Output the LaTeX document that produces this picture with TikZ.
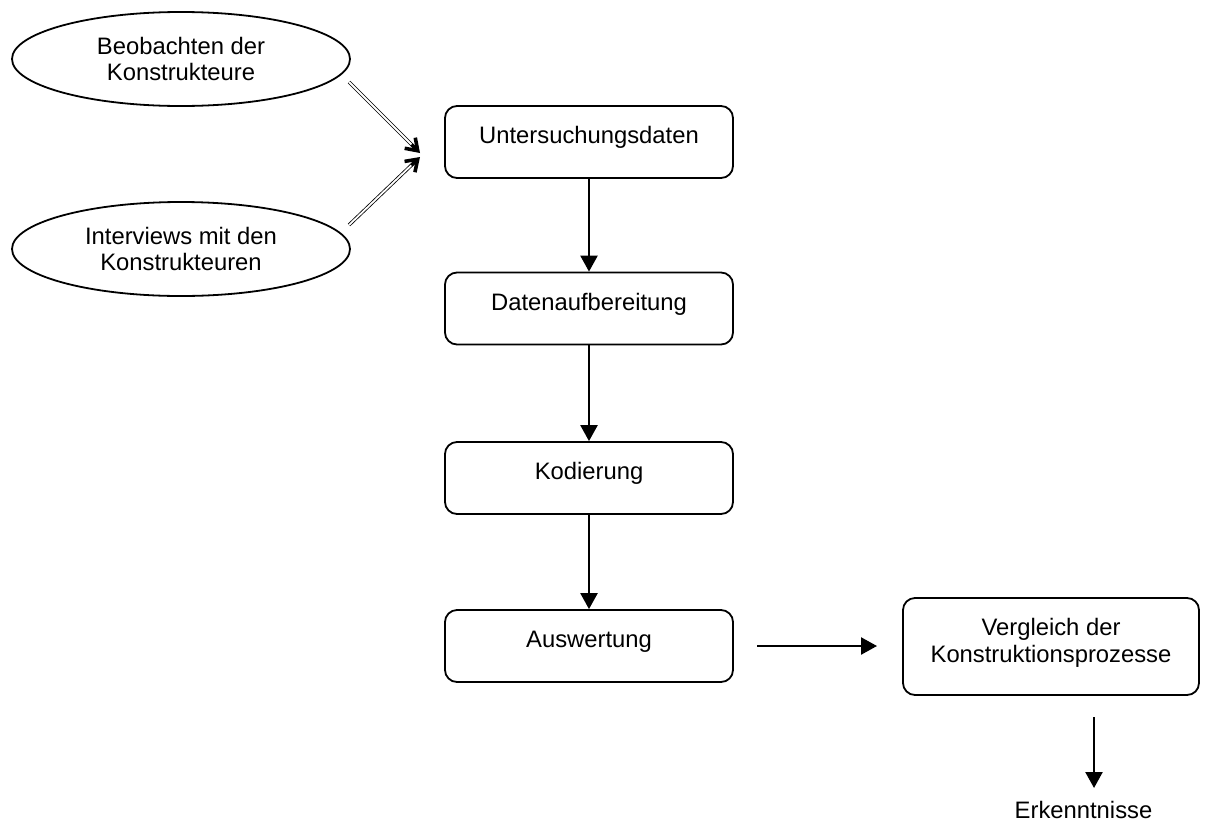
\documentclass[tikz,border=0pt]{standalone}
\usepackage{fontspec}
\setmainfont{Liberation Sans}
\usetikzlibrary{arrows.meta,shapes.geometric,calc}
\begin{document}
\begin{tikzpicture}[x=1pt,y=-1pt,
  every node/.style={font=\fontsize{23.8}{26.5}\selectfont},
  oval/.style={ellipse, draw, line width=1.8pt, minimum width=338pt, minimum height=94pt, inner sep=0pt, align=center},
  stepbox/.style={rectangle, rounded corners=12pt, draw, line width=1.8pt, minimum width=288pt, text height=18pt, text depth=15pt, inner ysep=19.5pt, inner xsep=0pt},
  flow/.style={line width=2.4pt, -{Triangle[width=17pt,length=16pt]}},
  feed/.style={double, line width=0.8pt, double distance=1.8pt},
  feedtip/.style={line width=3.2pt, -{Straight Barb[length=11pt,width=15pt,line width=3.6pt]}}
]
\useasboundingbox[fill=white] (0,0) rectangle (1209,825);

\node[oval] (obs) at (181,59) {Beobachten der\\Konstrukteure};
\node[oval] (int) at (181,249) {Interviews mit den\\Konstrukteuren};

\node[stepbox] (daten) at (589,142) {Untersuchungsdaten};
\node[stepbox] (aufb) at (589,308.5) {Datenaufbereitung};
\node[stepbox] (kod) at (589,478) {Kodierung};
\node[stepbox] (ausw) at (589,646) {Auswertung};
\node[stepbox, minimum width=296pt, text depth=40pt] (verg) at (1051,646.5)
  {\begin{tabular}[t]{@{}c@{}}Vergleich der\\Konstruktionsprozesse\end{tabular}};
\node[inner sep=1pt] (erk) at (1083.5,810) {Erkenntnisse};

% double feed arrows
\coordinate (o1) at (349,82);
\coordinate (t1) at (420,153);
\coordinate (o2) at (349,225);
\coordinate (t2) at (420,157);
\draw[feed, shorten >=4pt] (o1) -- (t1);
\draw[feedtip] ($(t1)!12pt!(o1)$) -- (t1);
\draw[feed, shorten >=4pt] (o2) -- (t2);
\draw[feedtip] ($(t2)!12pt!(o2)$) -- (t2);

% main flow
\draw[flow] (daten) -- (aufb);
\draw[flow] (aufb) -- (kod);
\draw[flow] (kod) -- (ausw);

\coordinate (h1) at (757,646);
\coordinate (h2) at (877,646);
\draw[flow] (h1) -- (h2);

\coordinate (v1) at (1094,717);
\coordinate (v2) at (1094,788);
\draw[flow] (v1) -- (v2);
\end{tikzpicture}
\end{document}
